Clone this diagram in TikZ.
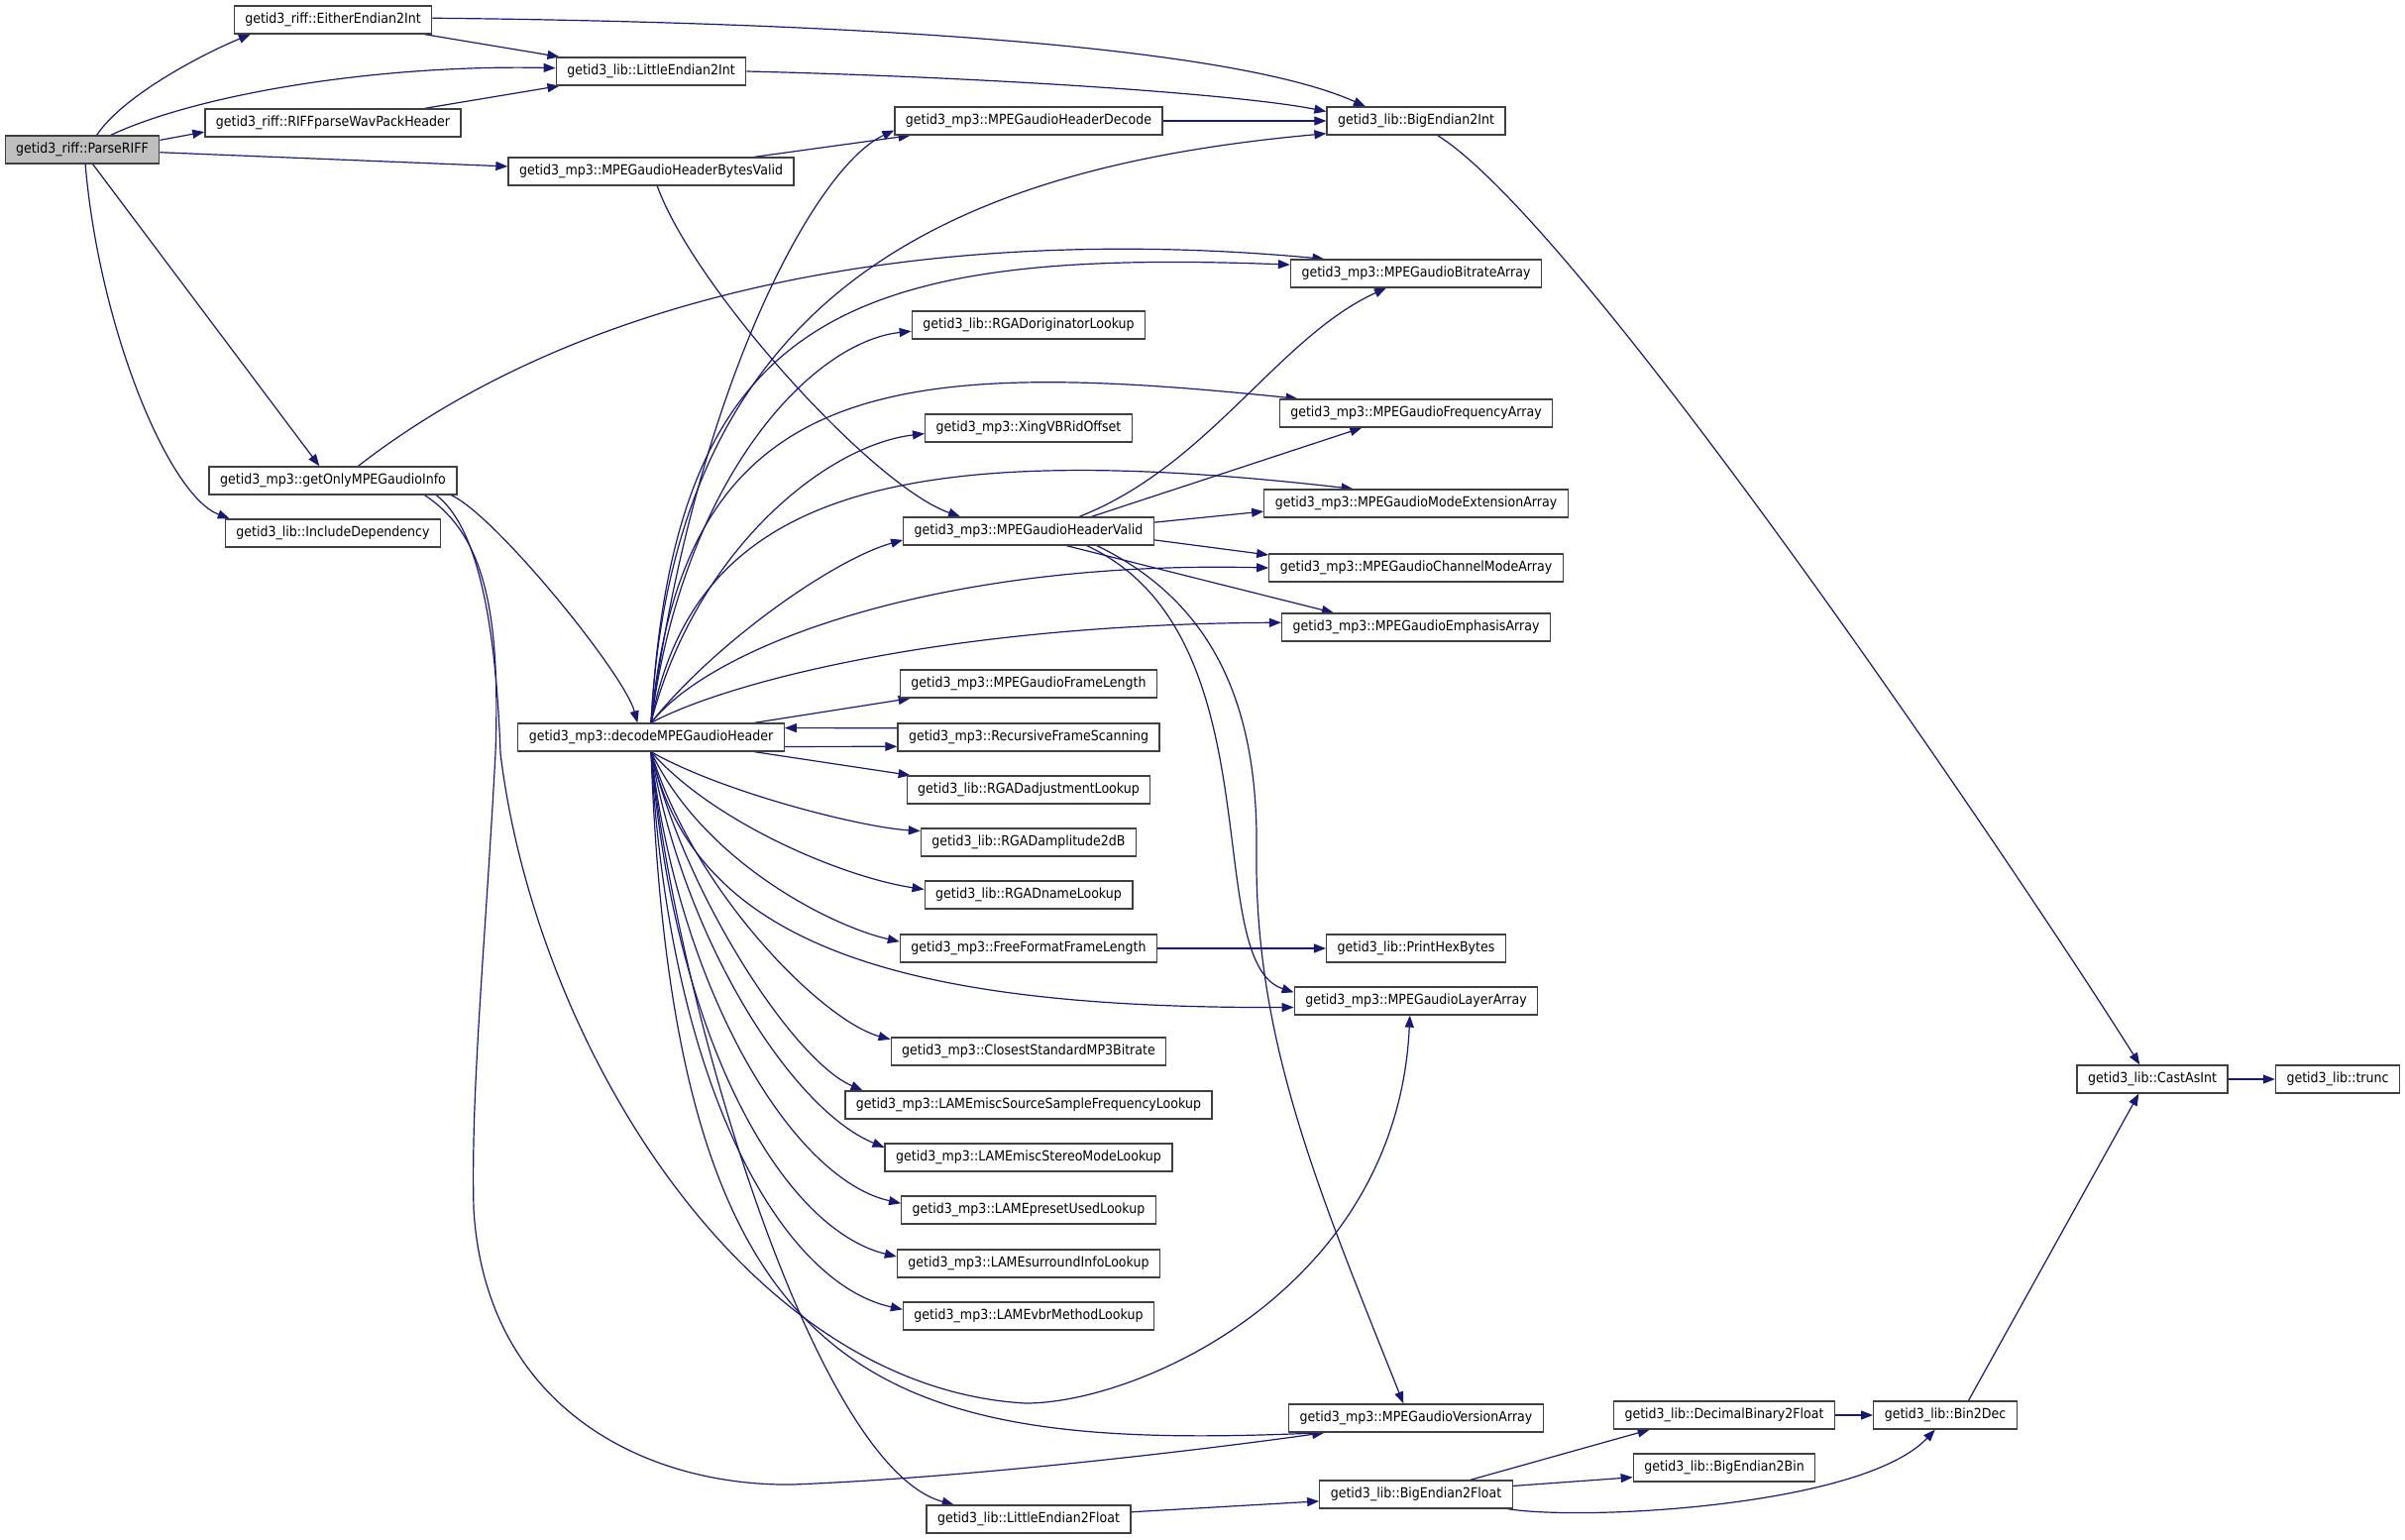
\documentclass[tikz,border=0pt]{standalone}
\usepackage{fontspec}
\setmainfont{DejaVu Sans}[FakeStretch=0.9]
\usepackage{xcolor}
\usepackage{tikz}
\usetikzlibrary{arrows.meta}
\pgfdeclarelayer{bg}
\pgfsetlayers{bg,main}
\definecolor{edgeblue}{HTML}{191970}
\definecolor{boxline}{HTML}{404040}
\definecolor{rootfill}{HTML}{BFBFBF}

\begin{document}
\begin{tikzpicture}[x=1pt, y=-1pt,
	fn/.style={rectangle, draw=boxline, line width=1.3pt, fill=white, minimum height=28pt, inner xsep=11pt, inner ysep=0pt, font=\fontsize{14}{16}\selectfont},
	root/.style={fn, fill=rootfill},
	call/.style={draw=edgeblue, line width=1.2pt, -{Triangle[length=12pt, width=9pt]}}]
			\useasboundingbox (0,0) rectangle (2427,1553);
			\node[root] (riffParse) at (83,151) {getid3\_riff::ParseRIFF};
			\foreach \name/\x/\y/\txt in {eitherEndian/336/20/getid3\_riff::EitherEndian2Int, littleEndianInt/657/72/getid3\_lib::LittleEndian2Int,
				wavPack/336/124/getid3\_riff::RIFFparseWavPackHeader, headerBytesValid/657/173/getid3\_mp3::MPEGaudioHeaderBytesValid,
				onlyInfo/336/485/getid3\_mp3::getOnlyMPEGaudioInfo, includeDep/336/538/getid3\_lib::IncludeDependency,
				headerDecode/1038/122/getid3\_mp3::MPEGaudioHeaderDecode, bigEndianInt/1429/122/getid3\_lib::BigEndian2Int,
				bitrate/1429/276/getid3\_mp3::MPEGaudioBitrateArray, originator/1038/328/getid3\_lib::RGADoriginatorLookup,
				frequency/1429/417/getid3\_mp3::MPEGaudioFrequencyArray, xing/1038/432/getid3\_mp3::XingVBRidOffset,
				modeExt/1429/508/getid3\_mp3::MPEGaudioModeExtensionArray, headerValid/1038/536/getid3\_mp3::MPEGaudioHeaderValid,
				channelMode/1429/573/getid3\_mp3::MPEGaudioChannelModeArray, emphasis/1429/633/getid3\_mp3::MPEGaudioEmphasisArray,
				frameLength/1038/690/getid3\_mp3::MPEGaudioFrameLength, recursive/1038/744/getid3\_mp3::RecursiveFrameScanning,
				decode/657/744/getid3\_mp3::decodeMPEGaudioHeader, adjustment/1038/797/getid3\_lib::RGADadjustmentLookup,
				amplitude/1038/850/getid3\_lib::RGADamplitude2dB, nameLookup/1038/903/getid3\_lib::RGADnameLookup,
				freeFormat/1038/957/getid3\_mp3::FreeFormatFrameLength, printHex/1429/957/getid3\_lib::PrintHexBytes,
				layer/1429/1010/getid3\_mp3::MPEGaudioLayerArray, closest/1038/1061/getid3\_mp3::ClosestStandardMP3Bitrate,
				sourceFreq/1038/1115/getid3\_mp3::LAMEmiscSourceSampleFrequencyLookup, stereoMode/1038/1168/getid3\_mp3::LAMEmiscStereoModeLookup,
				presetUsed/1038/1221/getid3\_mp3::LAMEpresetUsedLookup, surround/1038/1275/getid3\_mp3::LAMEsurroundInfoLookup,
				vbrMethod/1038/1328/getid3\_mp3::LAMEvbrMethodLookup, version/1429/1431/getid3\_mp3::MPEGaudioVersionArray,
				littleEndianFloat/1038/1533/getid3\_lib::LittleEndian2Float, bigEndianFloat/1429/1508/getid3\_lib::BigEndian2Float,
				decimalBinary/1740/1428/getid3\_lib::DecimalBinary2Float, bin2Dec/1963/1428/getid3\_lib::Bin2Dec,
				bigEndianBin/1740/1481/getid3\_lib::BigEndian2Bin, castAsInt/2172/1089/getid3\_lib::CastAsInt,
				trunc/2359/1089/getid3\_lib::trunc}
			{
				\node[fn] (\name) at (\x,\y) {\txt};
			}
			\begin{pgfonlayer}{bg}
			\draw[call] (riffParse.45) .. controls (125,95) and (210,52) .. (eitherEndian.190);
			\draw[call] (riffParse.27) .. controls (200,95) and (380,65) .. (littleEndianInt.178);
			\draw[call] (riffParse.7) -- (wavPack.184);
			\draw[call] (riffParse.-2) -- (headerBytesValid.178);
			\draw[call] (riffParse.-54) -- (onlyInfo.133);
			\draw[call] (riffParse.-78) .. controls (100,330) and (170,500) .. (includeDep.172);
			\draw[call] (eitherEndian.-9) -- (littleEndianInt.171);
			\draw[call] (eitherEndian.1) .. controls (800,22) and (1230,41) .. (bigEndianInt.164);
			\draw[call] (wavPack.9) -- (littleEndianInt.189);
			\draw[call] (littleEndianInt.east) .. controls (1000,78) and (1250,95) .. (bigEndianInt.174);
			\draw[call] (headerBytesValid.8) -- (headerDecode.187);
			\draw[call] (headerBytesValid.-67) .. controls (700,290) and (880,490) .. (headerValid.168);
			\draw[call] (headerDecode) -- (bigEndianInt);
			\draw[call] (bigEndianInt.-34) .. controls (1600,230) and (2050,900) .. (castAsInt.131);
			\draw[call] (castAsInt) -- (trunc);
			\draw[call] (onlyInfo.30) .. controls (620,270) and (1000,230) .. (bitrate.171);
			\draw[call] (onlyInfo.-7) .. controls (500,520) and (630,680) .. (decode.133);
			\draw[call] (onlyInfo.-8) .. controls (480,530) and (500,620) .. (505,760) .. controls (540,1050) and (750,1400) .. (1035,1416) .. controls (1150,1416) and (1410,1300) .. (layer.247);
			\draw[call] (onlyInfo.-9) .. controls (490,540) and (505,620) .. (500,760) .. controls (490,950) and (475,1100) .. (478,1220) .. controls (490,1420) and (650,1500) .. (800,1498) .. controls (1000,1490) and (1250,1458) .. (version.189);
			\draw[call] (decode.north) .. controls (700,400) and (820,170) .. (headerDecode.184);
			\draw[call] (decode.north) .. controls (680,300) and (950,170) .. (bigEndianInt.188);
			\draw[call] (decode.north) .. controls (680,320) and (850,250) .. (bitrate.176);
			\draw[call] (decode.north) .. controls (690,480) and (820,345) .. (originator.183);
			\draw[call] (decode.north) .. controls (690,380) and (900,360) .. (frequency.173);
			\draw[call] (decode.north) .. controls (700,560) and (830,450) .. (xing.183);
			\draw[call] (decode.north) .. controls (700,500) and (900,440) .. (modeExt.167);
			\draw[call] (decode.north) .. controls (720,650) and (840,565) .. (headerValid.184);
			\draw[call] (decode.north) .. controls (720,650) and (950,565) .. (channelMode.180);
			\draw[call] (decode.north) .. controls (730,690) and (950,630) .. (emphasis.178);
			\draw[call] (decode.8) -- (frameLength.187);
			\draw[call] (decode.-4) -- (recursive.184);
			\draw[call] (recursive.176) -- (decode.4);
			\draw[call] (decode.-8) -- (adjustment.173);
			\draw[call] (decode.south) .. controls (730,800) and (870,835) .. (amplitude.174);
			\draw[call] (decode.south) .. controls (720,830) and (850,885) .. (nameLookup.177);
			\draw[call] (decode.south) .. controls (710,870) and (840,935) .. (freeFormat.177);
			\draw[call] (freeFormat) -- (printHex);
			\draw[call] (decode.south) .. controls (700,950) and (900,1018) .. (layer.183);
			\draw[call] (decode.south) .. controls (700,900) and (830,1030) .. (closest.175);
			\draw[call] (decode.south) .. controls (690,900) and (800,1070) .. (sourceFreq.175);
			\draw[call] (decode.south) .. controls (690,950) and (800,1120) .. (stereoMode.176);
			\draw[call] (decode.south) .. controls (685,1000) and (800,1190) .. (presetUsed.177);
			\draw[call] (decode.south) .. controls (680,1050) and (790,1240) .. (surround.177);
			\draw[call] (decode.south) .. controls (675,1100) and (790,1295) .. (vbrMethod.177);
			\draw[call] (decode.south) .. controls (680,1400) and (880,1465) .. (version.189);
			\draw[call] (decode.south) .. controls (680,1000) and (820,1480) .. (littleEndianFloat.169);
			\draw[call] (headerValid.16) .. controls (1220,470) and (1290,340) .. (bitrate.206);
			\draw[call] (headerValid.13) -- (frequency.195);
			\draw[call] (headerValid.4) -- (modeExt.183);
			\draw[call] (headerValid.-4) -- (channelMode.175);
			\draw[call] (headerValid.-21) -- (emphasis.170);
			\draw[call] (headerValid.-14) .. controls (1290,640) and (1210,970) .. (layer.176);
			\draw[call] (headerValid.-12) .. controls (1230,610) and (1270,720) .. (1268,860) .. controls (1266,1050) and (1330,1200) .. (version.131);
			\draw[call] (littleEndianFloat.4) -- (bigEndianFloat.184);
			\draw[call] (bigEndianFloat.15) -- (decimalBinary.191);
			\draw[call] (bigEndianFloat.5) -- (bigEndianBin.186);
			\draw[call] (bigEndianFloat.-9) .. controls (1600,1535) and (1880,1520) .. (bin2Dec.235);
			\draw[call] (decimalBinary) -- (bin2Dec);
			\draw[call] (bin2Dec.32) -- (castAsInt.227);
			\end{pgfonlayer}
		\end{tikzpicture}
\end{document}
